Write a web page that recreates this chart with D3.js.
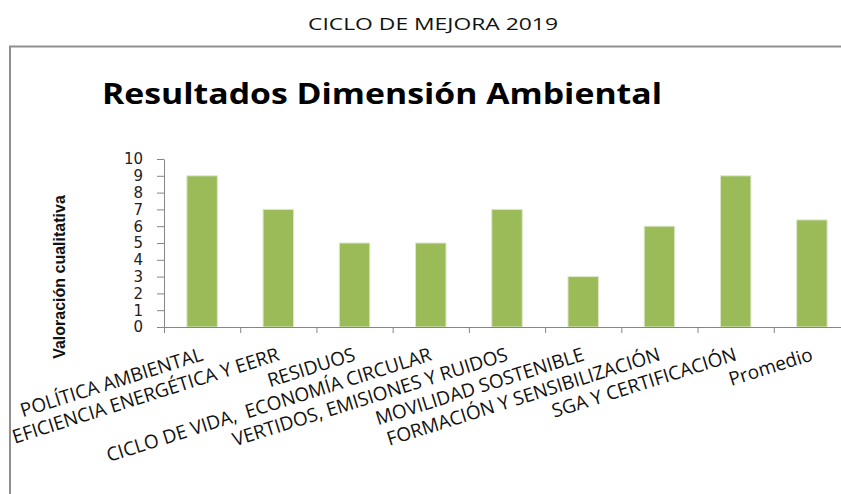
<!DOCTYPE html>
<html lang="es">
  <head>
    <meta charset="UTF-8" />
    <title>Resultados Dimensión Ambiental</title>
    <style>
      body { margin: 0; background: #fff; }
      svg { display: block; }
      text.cat { white-space: pre; }
    </style>
  </head>
  <body>
    <div id="chart"></div>

    <script src="https://cdn.jsdelivr.net/npm/d3@7"></script>
    <script>
      // datos
      var categorias = [
        "POLÍTICA AMBIENTAL",
        "EFICIENCIA ENERGÉTICA Y EERR",
        "RESIDUOS",
        "CICLO DE VIDA,  ECONOMÍA CIRCULAR",
        "VERTIDOS, EMISIONES Y RUIDOS",
        "MOVILIDAD SOSTENIBLE",
        "FORMACIÓN Y SENSIBILIZACIÓN",
        "SGA Y CERTIFICACIÓN",
        "Promedio"
      ];
      var valores = [9, 7, 5, 5, 7, 3, 6, 9, 6.375];
      var yTicks = [0, 1, 2, 3, 4, 5, 6, 7, 8, 9, 10];

      var width = 841;
      var height = 494;
      var plotLeft = 164, plotRight = 850, plotTop = 159, plotBottom = 327;

      var svg = d3.select("#chart")
                  .append("svg")
                  .attr("width", width)
                  .attr("height", height);

      // encabezado de pagina
      svg.append("text")
         .attr("x", 433)
         .attr("y", 30)
         .attr("text-anchor", "middle")
         .attr("font-family", "Open Sans")
         .attr("font-size", "17px")
         .attr("fill", "#111")
         .attr("textLength", 250)
         .attr("lengthAdjust", "spacingAndGlyphs")
         .text("CICLO DE MEJORA 2019");

      svg.append("clipPath")
         .attr("id", "marco")
         .append("rect")
         .attr("x", 11).attr("y", 47)
         .attr("width", width).attr("height", height);

      var g = svg.append("g").attr("clip-path", "url(#marco)");

      // marco del grafico
      svg.append("rect")
         .attr("x", 10)
         .attr("y", 46.5)
         .attr("width", width + 20)
         .attr("height", height)
         .attr("fill", "none")
         .attr("stroke", "#8f8f8f")
         .attr("stroke-width", 2);

      g.append("text")
         .attr("x", 102)
         .attr("y", 104)
         .attr("font-family", "Open Sans")
         .attr("font-weight", "bold")
         .attr("font-size", "29px")
         .attr("fill", "#000")
         .attr("textLength", 560)
         .attr("lengthAdjust", "spacingAndGlyphs")
         .text("Resultados Dimensión Ambiental");

      var xScale = d3.scaleBand()
                     .domain(categorias)
                     .range([plotLeft, plotRight])
                     .paddingInner(0.6)
                     .paddingOuter(0.3);

      var yScale = d3.scaleLinear()
                     .domain([0, 10])
                     .range([plotBottom, plotTop]);

      // marcas del eje x en los limites de cada categoria
      var xLimites = d3.scaleLinear()
                       .domain([0, categorias.length])
                       .range([plotLeft, plotRight]);

      g.selectAll("rect.barra")
       .data(valores)
       .enter()
       .append("rect")
       .attr("class", "barra")
       .attr("x", function(d, i) { return xScale(categorias[i]); })
       .attr("y", function(d) { return yScale(d); })
       .attr("width", xScale.bandwidth())
       .attr("height", function(d) { return yScale(0) - yScale(d); })
       .attr("fill", "#9bbb59")
       .attr("stroke", "#dde8c8")
       .attr("stroke-width", 1);

      var yAxis = d3.axisLeft(yScale)
                    .tickValues(yTicks)
                    .tickSize(7)
                    .tickSizeOuter(0)
                    .tickPadding(14);

      var ejeY = g.append("g")
                  .attr("transform", "translate(" + plotLeft + ",0)")
                  .call(yAxis);
      ejeY.selectAll("path, line").attr("stroke", "#868686");
      ejeY.selectAll("text")
          .attr("font-family", "DejaVu Sans")
          .attr("font-size", "15px")
          .attr("fill", "#222");

      var xAxis = d3.axisBottom(xLimites)
                    .ticks(categorias.length)
                    .tickSize(6)
                    .tickSizeOuter(0)
                    .tickFormat("");

      var ejeX = g.append("g")
                  .attr("transform", "translate(0," + plotBottom + ")")
                  .call(xAxis);
      ejeX.selectAll("path, line").attr("stroke", "#868686");

      // etiquetas inclinadas
      g.selectAll("text.cat")
       .data(categorias)
       .enter()
       .append("text")
       .attr("class", "cat")
       .attr("text-anchor", "end")
       .attr("font-family", "Open Sans")
       .attr("font-size", "19px")
       .attr("fill", "#111")
       .attr("transform", function(d) {
         var cx = xScale(d) + xScale.bandwidth() / 2 + 2;
         return "translate(" + cx + ",360) rotate(-17.5)";
       })
       .text(function(d) { return d; });

      g.append("text")
       .attr("transform", "translate(65,277) rotate(-90)")
       .attr("text-anchor", "middle")
       .attr("font-family", "Liberation Sans")
       .attr("font-weight", "bold")
       .attr("font-size", "16px")
       .attr("fill", "#111")
       .text("Valoración cualitativa");
    </script>
  </body>
</html>
